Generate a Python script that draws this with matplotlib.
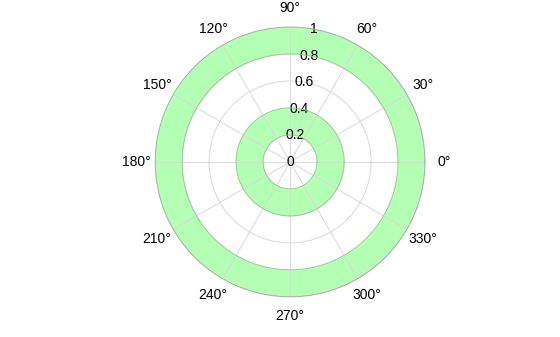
import numpy as np
import matplotlib
matplotlib.use('Agg')
import matplotlib.pyplot as plt

plt.rcParams['font.family'] = ['Liberation Sans', 'DejaVu Sans']

# ring limits (inner, outer radius)
ring_inner = [0.2, 0.8]
ring_outer = [0.4, 1.0]
r_ticks = [0, 0.2, 0.4, 0.6, 0.8, 1]
r_labels = ['0', '0.2', '0.4', '0.6', '0.8', '1']
theta_ticks = list(range(0, 360, 30))

fig = plt.figure(figsize=(5.6, 3.37), dpi=100)
ax = fig.add_axes([0.277, 0.119, 0.482, 0.801], projection='polar')

th = np.linspace(0, 2 * np.pi, 400)
for r0, r1 in zip(ring_inner, ring_outer):
	ax.fill_between(th, r0, r1, color='#b3ffb3', linewidth=0, zorder=1)
	ax.plot(th, np.full_like(th, r0), color='#8fcc8f', lw=0.6, zorder=2)
	ax.plot(th, np.full_like(th, r1), color='#8fcc8f', lw=0.6, zorder=2)

ax.set_ylim(0, 1)
ax.set_yticks(r_ticks)
ax.set_yticklabels(r_labels, fontsize=10)
ax.set_rlabel_position(80)
ax.set_thetagrids(theta_ticks, [f'{t}°' for t in theta_ticks], fontsize=10)
ax.tick_params(axis='x', pad=3)
ax.grid(True, color='#d9d9d9', lw=0.7)
for g in ax.get_xgridlines() + ax.get_ygridlines():
	g.set_zorder(3)
ax.spines['polar'].set_color('#aaaaaa')
ax.spines['polar'].set_linewidth(0.6)
for t in ax.get_yticklabels():
	t.set_zorder(5)
	t.set_horizontalalignment('center')
	t.set_verticalalignment('center')

fig.savefig('out.png', dpi=100)
